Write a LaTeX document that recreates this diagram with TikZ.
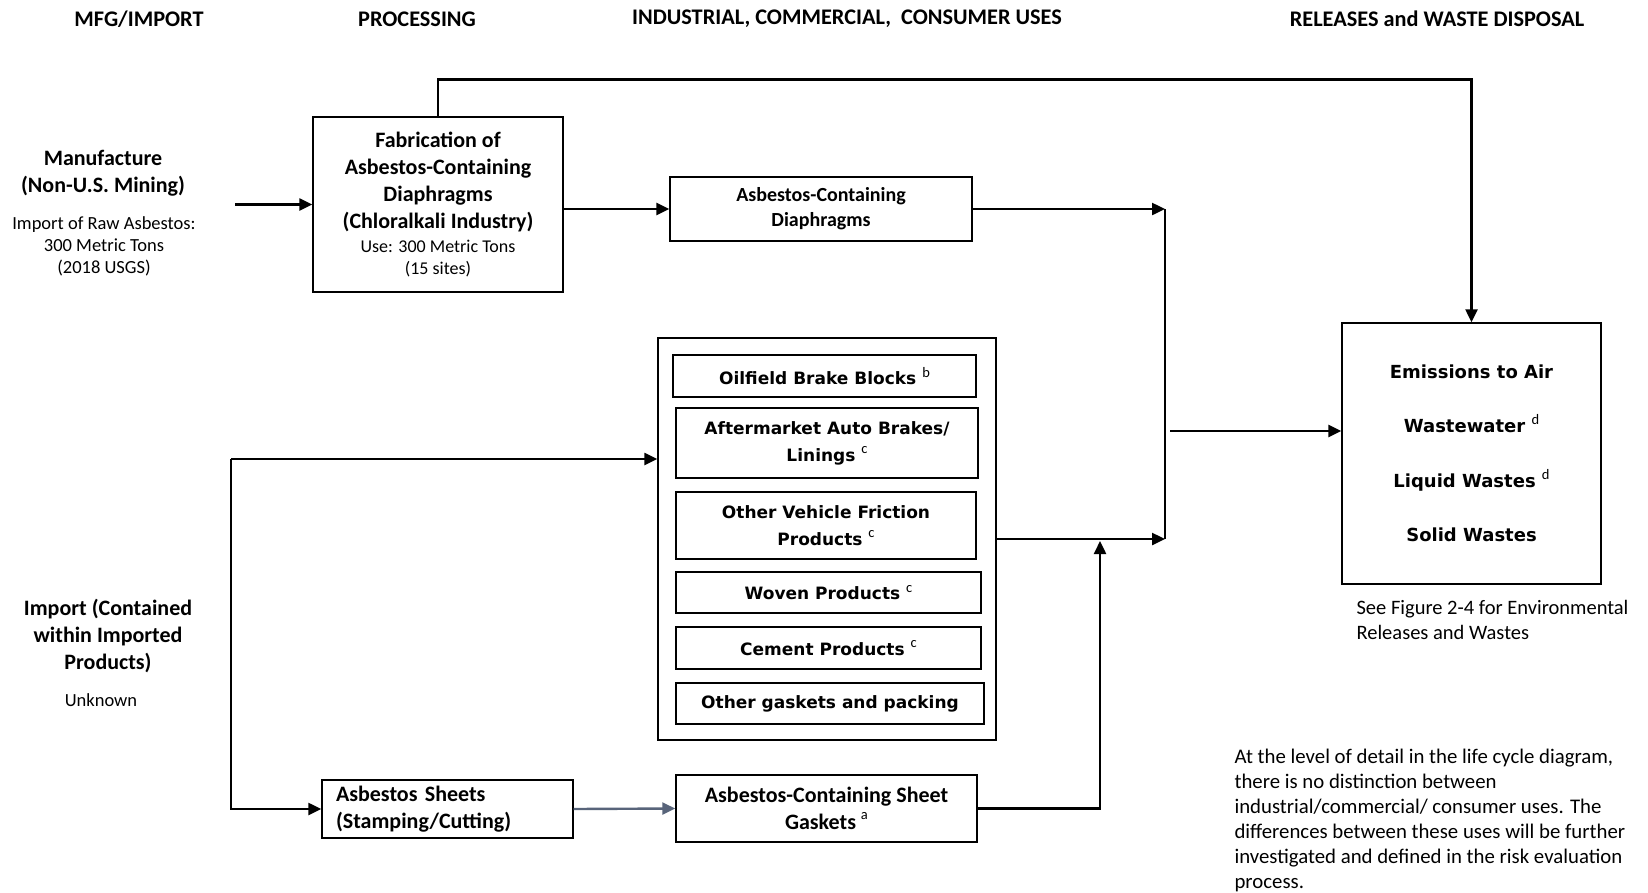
\documentclass[tikz,border=0pt]{standalone}
\usepackage{fontspec}
\setmainfont{Carlito}
\newfontfamily\verdfont{DejaVu Sans}
\usetikzlibrary{arrows.meta}

\definecolor{arrowgray}{RGB}{88,100,122}
\newcommand{\fnmark}[1]{\raisebox{0.45em}{\normalfont\fontsize{14.5}{14.5}\selectfont #1}}
\newcommand{\smalltxt}{\mdseries\fontsize{18}{22}\selectfont}

\begin{document}
\begin{tikzpicture}[
    % One unit is one pixel of the page, y runs downwards
    x=1pt, y=-1pt,
    % Define styles for the elements
    head_style/.style={font=\bfseries\fontsize{22.3}{26}\selectfont},
    title_style/.style={align=center, font=\bfseries\fontsize{22}{27}\selectfont},
    note_style/.style={font=\fontsize{18.5}{22}\selectfont},
    box_style/.style={draw, line width=1.4pt, inner sep=0pt, align=center, font=\bfseries\fontsize{22}{27}\selectfont},
    prod_style/.style={box_style, font=\verdfont\bfseries\fontsize{17}{27}\selectfont},
    flow_style/.style={line width=2.4pt, -{Triangle[length=13pt,width=12pt]}}
  ]

  \useasboundingbox (0,0) rectangle (1648,892);

  % --- Step 1: The column headings ---
  \node[head_style] (h_mfg)  at (139,19)  {MFG/IMPORT};
  \node[head_style] (h_proc) at (417,19)  {PROCESSING};
  \node[head_style] (h_use)  at (847,19)  {INDUSTRIAL, COMMERCIAL,\ \ CONSUMER USES};
  \node[head_style] (h_rel)  at (1437,19) {RELEASES and WASTE DISPOSAL};

  % --- Step 2: The sources on the left ---
  \node[title_style] (mfg) at (103,173) {Manufacture\\(Non-U.S. Mining)};
  \node[note_style, align=center] (mfg_amt) at (104,246) {Import of Raw Asbestos:\\300 Metric Tons\\(2018 USGS)};

  \node[title_style] (imp) at (108,636) {Import (Contained\\within Imported\\Products)};
  \node[note_style] (imp_amt) at (101,700) {Unknown};

  % --- Step 3: The processing boxes ---
  \node[box_style, minimum width=250, minimum height=175] (fab) at (438,204.5)
    {Fabrication of\\Asbestos-Containing\\Diaphragms\\(Chloralkali Industry)\\[-3pt]
     {\smalltxt Use: 300 Metric Tons}\\[-5pt]{\smalltxt (15 sites)}};

  \node[box_style, align=left, text width=223, inner xsep=14, minimum height=58] (sheets) at (447.5,809)
    {Asbestos Sheets\\(Stamping/Cutting)};

  % --- Step 4: The uses ---
  \node[box_style, minimum width=302, minimum height=64, font=\bfseries\fontsize{20}{25}\selectfont] (dia) at (821,209)
    {Asbestos-Containing\\Diaphragms};

  \node[draw, line width=1.4pt, minimum width=338, minimum height=402] (prod) at (827,539) {};
  \node[prod_style, minimum width=303, minimum height=42] (oil)    at (824.5,376) {Oilfield Brake Blocks \fnmark{b}};
  \node[prod_style, minimum width=302, minimum height=70] (after)  at (827,443)   {Aftermarket Auto Brakes/\\Linings \fnmark{c}};
  \node[prod_style, minimum width=300, minimum height=67] (othveh) at (826,525.5) {Other Vehicle Friction\\Products \fnmark{c}};
  \node[prod_style, minimum width=305, minimum height=41] (woven)  at (828.5,592.5) {Woven Products \fnmark{c}};
  \node[prod_style, minimum width=305, minimum height=42] (cement) at (828.5,648) {Cement Products \fnmark{c}};
  \node[prod_style, minimum width=308, minimum height=41] (gpack)  at (830,703.5) {Other gaskets and packing};

  \node[box_style, minimum width=301, minimum height=67] (gask) at (826.5,808.5)
    {Asbestos-Containing Sheet\\Gaskets \fnmark{a}};

  % --- Step 5: Releases and wastes ---
  \node[box_style, minimum width=259, minimum height=261, font=\verdfont\bfseries\fontsize{18}{54.5}\selectfont] (rel) at (1471.5,453.5)
    {Emissions to Air\\Wastewater \fnmark{d}\\Liquid Wastes \fnmark{d}\\Solid Wastes};

  \node[anchor=west, align=left, font=\fontsize{20.5}{25}\selectfont] (seefig) at (1353,619.5)
    {See Figure 2-4 for Environmental\\Releases and Wastes};

  \node[anchor=west, align=left, font=\fontsize{20.8}{25}\selectfont] (remark) at (1231,820)
    {At the level of detail in the life cycle diagram,\\there is no distinction between\\industrial/commercial/ consumer uses. The\\differences between these uses will be further\\investigated and defined in the risk evaluation\\process.};

  % --- Step 6: The flows ---
  \coordinate (mfg_out) at (235,204.5);
  \coordinate (split) at (231,459);
  \coordinate (m_top) at (1165,209);
  \coordinate (m_bot) at (1165,539);
  \coordinate (m_mid) at (1170,431);
  \coordinate (g_up) at (1100,541);

  \draw[flow_style] (mfg_out) -- (fab.west);
  \draw[flow_style] (fab.east |- dia.west) -- (dia.west);
  \draw[flow_style] (fab.north) -- ++(0,-37) -| (rel.north);

  \draw[flow_style] (split) -- (split -| prod.west);
  \draw[flow_style] (split) |- (sheets.west);
  \draw[flow_style, draw=arrowgray] (sheets.east) -- (gask.west);

  \draw[flow_style] (dia.east) -- (m_top);
  \draw[line width=2.4pt] (m_top) -- (m_bot);
  \draw[flow_style] (prod.east) -- (m_bot);
  \draw[flow_style] (gask.east) -| (g_up);
  \draw[flow_style] (m_mid) -- (m_mid -| rel.west);

\end{tikzpicture}
\end{document}
